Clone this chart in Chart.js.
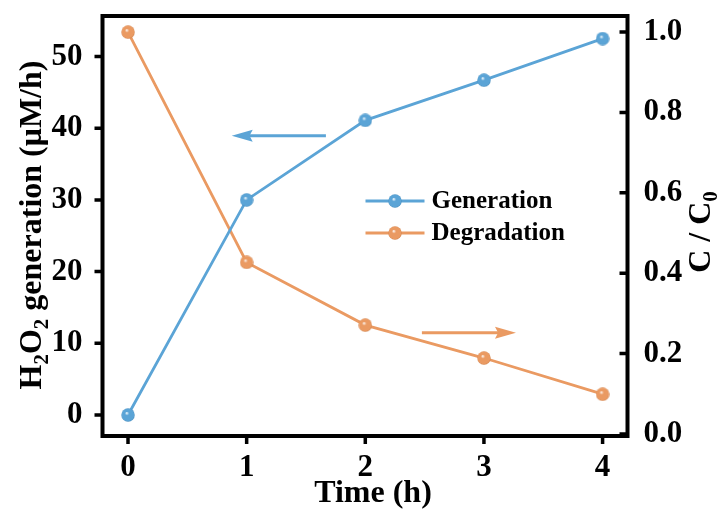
<!DOCTYPE html>
<html>
<head>
<meta charset="utf-8">
<script src="https://cdn.jsdelivr.net/npm/chart.js@4.4.1/dist/chart.umd.min.js"></script>
<style>
    html, body { margin: 0; padding: 0; background: #fff; }
</style>
</head>
<body>
<canvas id="line-chart" width="724" height="511"></canvas>
<script>
// data
const times = [0, 1, 2, 3, 4];
const generation = [0, 30.0, 41.1, 46.7, 52.5];
const degradation = [1.0, 0.427, 0.271, 0.189, 0.099];

const timeTicks = [0, 1, 2, 3, 4];
const leftTicks = [0, 10, 20, 30, 40, 50];
const rightTicks = [0, 0.2, 0.4, 0.6, 0.8, 1.0];

// arrows pointing to each axis: [x from, x to, y]
const genArrow = [1.668, 0.874, 38.95];
const degArrow = [2.477, 3.27, 0.252];

const FONT = "'Liberation Serif', 'Times New Roman', serif";
const BLUE = '#5ba4d6';
const ORANGE = '#ea9a62';

function sphere(color, edge, size) {
    const c = document.createElement('canvas');
    c.width = c.height = size;
    const g = c.getContext('2d');
    const r = size / 2;
    const grad = g.createRadialGradient(r * 0.8, r * 0.7, 0, r, r, r);
    grad.addColorStop(0, '#ffffff');
    grad.addColorStop(0.3, color);
    grad.addColorStop(0.85, color);
    grad.addColorStop(1, edge);
    g.fillStyle = grad;
    g.beginPath();
    g.arc(r, r, r - 0.3, 0, Math.PI * 2);
    g.fill();
    return c;
}

const blueBall = sphere(BLUE, '#3f86b8', 14);
const orangeBall = sphere(ORANGE, '#c97a44', 14);

function drawRich(ctx, parts, x, y, rot, size) {
    ctx.save();
    ctx.translate(x, y);
    ctx.rotate(rot);
    const big = `bold ${size}px ${FONT}`;
    const small = `bold ${Math.round(size * 0.66)}px ${FONT}`;
    let w = 0;
    parts.forEach(p => {
        ctx.font = p.sub ? small : big;
        p.w = ctx.measureText(p.t).width;
        w += p.w;
    });
    let cx = -w / 2;
    ctx.fillStyle = '#000';
    ctx.textBaseline = 'alphabetic';
    parts.forEach(p => {
        ctx.font = p.sub ? small : big;
        ctx.fillText(p.t, cx, p.sub ? size * 0.22 : 0);
        cx += p.w;
    });
    ctx.restore();
}

function arrow(ctx, x0, x1, y, color) {
    const dir = Math.sign(x1 - x0);
    const head = 21;
    ctx.save();
    ctx.strokeStyle = color;
    ctx.fillStyle = color;
    ctx.lineWidth = 3;
    ctx.beginPath();
    ctx.moveTo(x0, y);
    ctx.lineTo(x1 - dir * head * 0.8, y);
    ctx.stroke();
    ctx.beginPath();
    ctx.moveTo(x1, y);
    ctx.lineTo(x1 - dir * head, y - 6);
    ctx.lineTo(x1 - dir * head * 0.85, y);
    ctx.lineTo(x1 - dir * head, y + 6);
    ctx.closePath();
    ctx.fill();
    ctx.restore();
}

const decorations = {
    id: 'decorations',
    afterDraw(chart) {
        const ctx = chart.ctx;
        const ca = chart.chartArea;
        const sx = chart.scales.x, yl = chart.scales.y, yr = chart.scales.y1;

        // arrows
        arrow(ctx, sx.getPixelForValue(genArrow[0]), sx.getPixelForValue(genArrow[1]),
            yl.getPixelForValue(genArrow[2]), BLUE);
        arrow(ctx, sx.getPixelForValue(degArrow[0]), sx.getPixelForValue(degArrow[1]),
            yr.getPixelForValue(degArrow[2]), ORANGE);

        // frame
        ctx.save();
        ctx.strokeStyle = '#000';
        ctx.lineWidth = 4;
        ctx.strokeRect(ca.left, ca.top, ca.right - ca.left, ca.bottom - ca.top);

        // tick marks
        ctx.lineWidth = 3.5;
        ctx.beginPath();
        leftTicks.forEach(v => {
            const y = yl.getPixelForValue(v);
            ctx.moveTo(ca.left - 8, y);
            ctx.lineTo(ca.left, y);
        });
        rightTicks.forEach(v => {
            const y = yr.getPixelForValue(v);
            ctx.moveTo(ca.right, y);
            ctx.lineTo(ca.right - 8, y);
        });
        timeTicks.forEach(v => {
            const x = sx.getPixelForValue(v);
            ctx.moveTo(x, ca.bottom);
            ctx.lineTo(x, ca.bottom + 8);
        });
        ctx.stroke();
        ctx.restore();

        // axis titles
        drawRich(ctx, [{t: 'Time (h)'}], 373, 502, 0, 32);
        drawRich(ctx, [{t: 'H'}, {t: '2', sub: true}, {t: 'O'}, {t: '2', sub: true}, {t: ' generation (μM/h)'}],
            41, 225, -Math.PI / 2, 32);
        drawRich(ctx, [{t: 'C / C'}, {t: '0', sub: true}], 710, 232, -Math.PI / 2, 32);

        // legend
        const items = [['Generation', BLUE, blueBall], ['Degradation', ORANGE, orangeBall]];
        items.forEach((item, i) => {
            const y = ca.top + 185 + i * 32;
            const x0 = ca.left + 263;
            ctx.save();
            ctx.strokeStyle = item[1];
            ctx.lineWidth = 2.8;
            ctx.beginPath();
            ctx.moveTo(x0, y);
            ctx.lineTo(x0 + 59, y);
            ctx.stroke();
            ctx.drawImage(item[2], x0 + 29.5 - 7, y - 7);
            ctx.fillStyle = '#000';
            ctx.font = `bold 25px ${FONT}`;
            ctx.textBaseline = 'middle';
            ctx.fillText(item[0], x0 + 66, y + 1);
            ctx.restore();
        });
    }
};

const tickFont = { family: FONT, size: 31, weight: 'bold' };

function noPad(scale) {
    scale.paddingTop = 0;
    scale.paddingBottom = 0;
    scale.paddingLeft = 0;
    scale.paddingRight = 0;
}

window.chart = new Chart(document.getElementById('line-chart'), {
    type: 'line',
    data: {
        datasets: [
            {
                label: 'Generation',
                data: times.map((t, i) => ({ x: t, y: generation[i] })),
                yAxisID: 'y',
                borderColor: BLUE,
                borderWidth: 2.8,
                pointStyle: blueBall,
                pointRadius: 7,
                fill: false,
            },
            {
                label: 'Degradation',
                data: times.map((t, i) => ({ x: t, y: degradation[i] })),
                yAxisID: 'y1',
                borderColor: ORANGE,
                borderWidth: 2.8,
                pointStyle: orangeBall,
                pointRadius: 7,
                fill: false,
            },
        ],
    },
    options: {
        responsive: false,
        animation: false,
        devicePixelRatio: 1,
        layout: { padding: { top: 16, left: 0, right: 0, bottom: 0 } },
        plugins: {
            legend: { display: false },
            tooltip: { enabled: false },
        },
        scales: {
            x: {
                type: 'linear',
                min: -0.215,
                max: 4.21,
                grid: { display: false },
                border: { display: false },
                afterBuildTicks: scale => { scale.ticks = timeTicks.map(v => ({ value: v })); },
                afterFit: scale => { scale.height = 75; noPad(scale); },
                ticks: { font: tickFont, color: '#000', padding: 5, maxRotation: 0 },
            },
            y: {
                position: 'left',
                min: -2.93,
                max: 55.65,
                grid: { display: false },
                border: { display: false },
                afterBuildTicks: scale => { scale.ticks = leftTicks.map(v => ({ value: v })); },
                afterFit: scale => { scale.width = 102.5; noPad(scale); },
                ticks: { font: tickFont, color: '#000', padding: 12 },
            },
            y1: {
                position: 'right',
                min: -0.005,
                max: 1.04,
                grid: { display: false },
                border: { display: false },
                afterBuildTicks: scale => { scale.ticks = rightTicks.map(v => ({ value: v })); },
                afterFit: scale => { scale.width = 96.5; noPad(scale); },
                ticks: {
                    font: tickFont,
                    color: '#000',
                    padding: 8,
                    callback: v => v.toFixed(1),
                },
            },
        },
    },
    plugins: [decorations],
});
</script>
</body>
</html>
